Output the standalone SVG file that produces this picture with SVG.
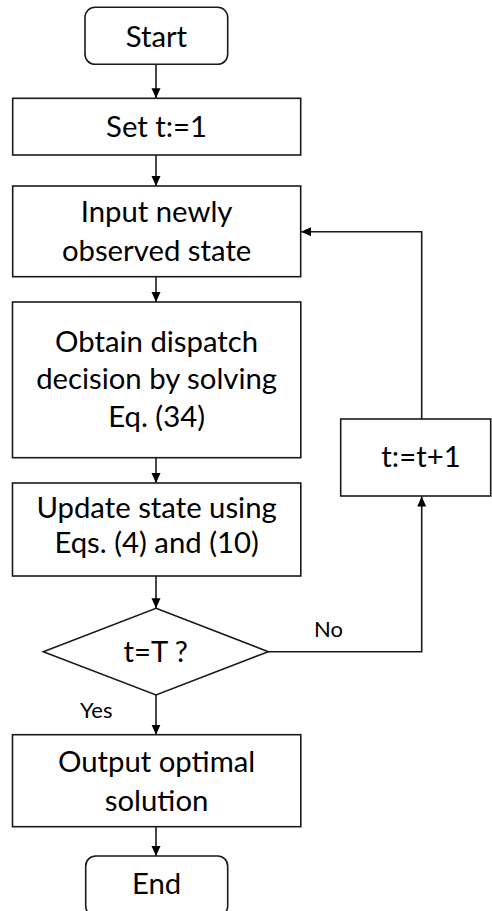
<svg xmlns="http://www.w3.org/2000/svg" width="492" height="911" viewBox="0 0 492 911">
<defs>
<marker id="arr" markerUnits="userSpaceOnUse" markerWidth="11" markerHeight="10" refX="10" refY="4.5" orient="auto">
<path d="M0,0 L10,4.5 L0,9 z" fill="#000"/>
</marker>
<style>
.box{fill:#fff;stroke:#1a1a1a;stroke-width:1.6}
.t{font-family:Lato,"Open Sans","Liberation Sans",sans-serif;font-size:29.3px;fill:#000;text-anchor:middle}
.lbl{font-family:Lato,"Open Sans","Liberation Sans",sans-serif;font-size:22px;fill:#000}
.c{fill:none;stroke:#1a1a1a;stroke-width:1.6;marker-end:url(#arr)}
</style>
</defs>
<rect width="492" height="911" fill="#fff"/>
<g id="connectors">
<line class="c" x1="156" y1="64.3" x2="156" y2="98.3"/>
<line class="c" x1="156" y1="155" x2="156" y2="186"/>
<line class="c" x1="156" y1="276.7" x2="156" y2="302"/>
<line class="c" x1="156" y1="457.7" x2="156" y2="483"/>
<line class="c" x1="156" y1="576" x2="156" y2="608.3"/>
<line class="c" x1="156" y1="695" x2="156" y2="734.7"/>
<line class="c" x1="156" y1="826.7" x2="156" y2="856"/>
<polyline class="c" points="268.3,651.7 421.7,651.7 421.7,496.5"/>
<polyline class="c" points="421.7,419 421.7,231.7 301,231.7"/>
<text class="lbl" x="314" y="637.3">No</text>
<text class="lbl" x="80" y="718.3">Yes</text>
</g>
<g id="start">
<rect class="box" x="85" y="7.3" width="142.7" height="57" rx="10"/>
<text class="t" x="156.4" y="46.7">Start</text>
</g>
<g id="set">
<rect class="box" x="12.7" y="98.3" width="288" height="56.7"/>
<text class="t" x="156.6" y="136.9">Set t:=1</text>
</g>
<g id="input">
<rect class="box" x="12.7" y="186" width="288" height="90.7"/>
<text class="t" x="156.6" y="221.7">Input newly</text>
<text class="t" x="156.6" y="260.7">observed state</text>
</g>
<g id="obtain">
<rect class="box" x="12.5" y="302" width="288.3" height="155.7"/>
<text class="t" x="156.6" y="351.7">Obtain dispatch</text>
<text class="t" x="156.6" y="389.3">decision by solving</text>
<text class="t" x="156.6" y="426.7">Eq. (34)</text>
</g>
<g id="update">
<rect class="box" x="12.5" y="483" width="288.3" height="93"/>
<text class="t" x="156.6" y="518.3">Update state using</text>
<text class="t" x="156.6" y="552.7">Eqs. (4) and (10)</text>
</g>
<g id="decision">
<polygon class="box" points="156,608.3 268.3,651.7 156,695 43.3,651.7"/>
<text class="t" x="155.7" y="661.7">t=T ?</text>
</g>
<g id="increment">
<rect class="box" x="340.7" y="419" width="150" height="77"/>
<text class="t" x="421" y="466.7">t:=t+1</text>
</g>
<g id="output">
<rect class="box" x="12.5" y="734.7" width="288.3" height="92"/>
<text class="t" x="156.6" y="771.7">Output optimal</text>
<text class="t" x="156.6" y="810.7">solution</text>
</g>
<g id="end">
<rect class="box" x="85.7" y="856" width="142" height="60" rx="10"/>
<text class="t" x="156.6" y="894">End</text>
</g>
</svg>
